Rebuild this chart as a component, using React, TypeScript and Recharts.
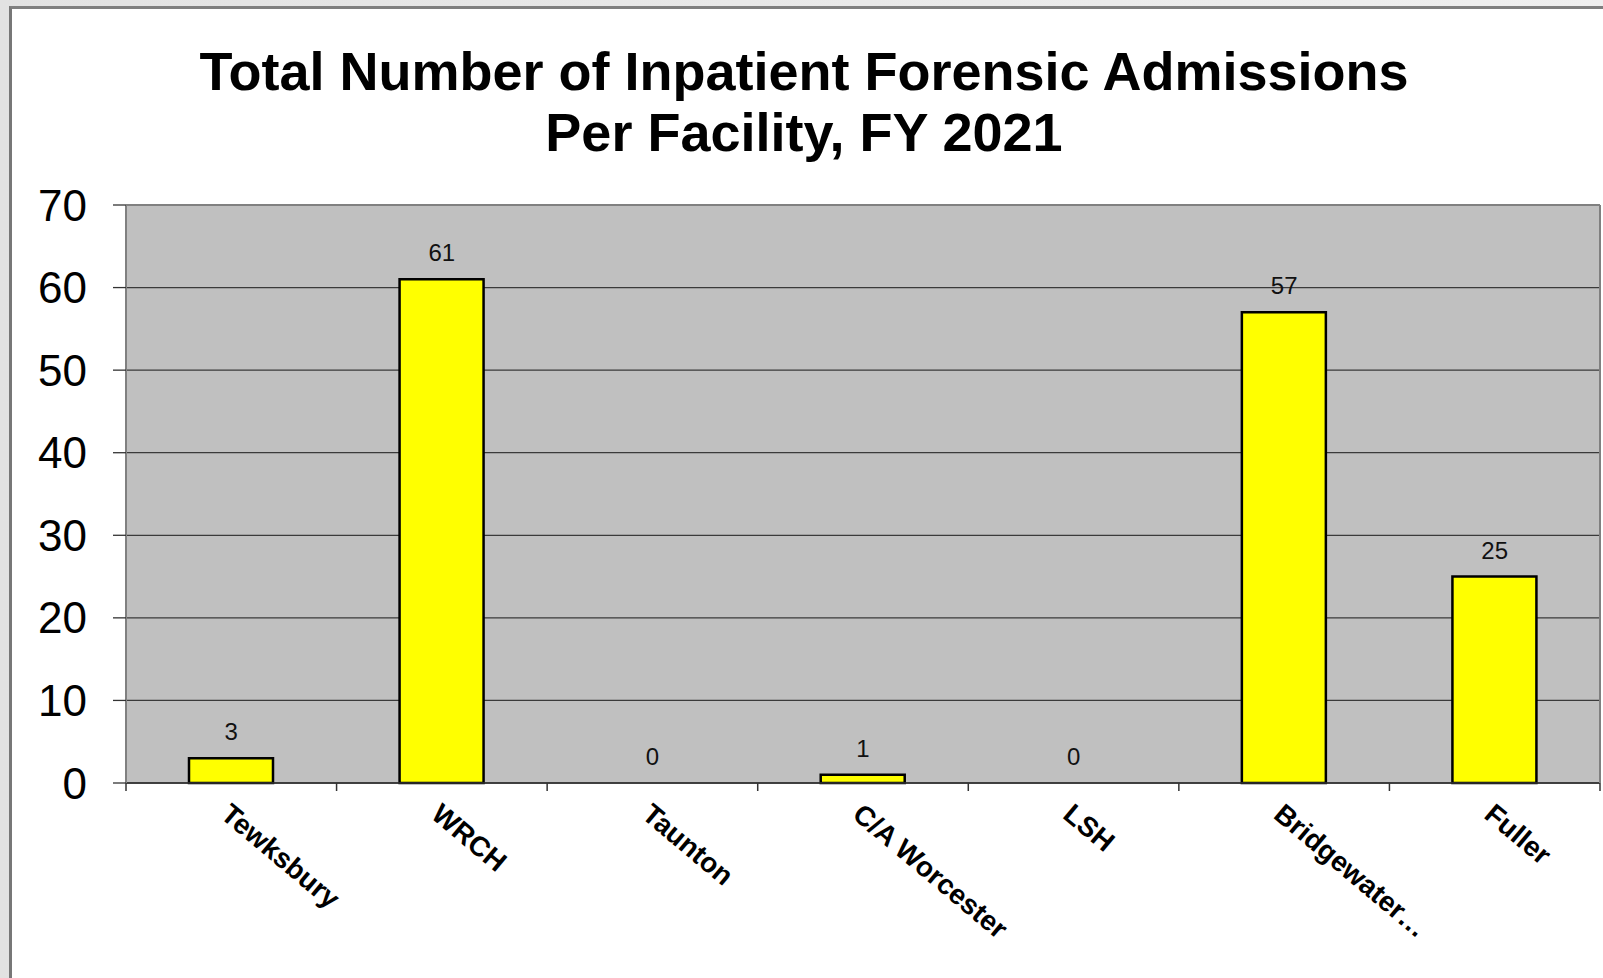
import React from 'react';
import { ComposedChart, Bar, Line, XAxis, YAxis, CartesianGrid, LabelList, ReferenceLine } from 'recharts';

const categories = ['Tewksbury', 'WRCH', 'Taunton', 'C/A Worcester', 'LSH', 'Bridgewater…', 'Fuller'];
const admissions = [3, 61, 0, 1, 0, 57, 25];
const yTicks = [0, 10, 20, 30, 40, 50, 60, 70];
const titleLines = ['Total Number of Inpatient Forensic Admissions', 'Per Facility, FY 2021'];

const data = categories.map((name, i) => ({ name, value: admissions[i] }));

const W = 1603;
const H = 978;
const PLOT_LEFT = 126;
const PLOT_RIGHT = 1600;
const PLOT_TOP = 205;
const PLOT_BOTTOM = 783;
const BAND = (PLOT_RIGHT - PLOT_LEFT) / categories.length;
const FONT = '"Liberation Sans", Arial, Helvetica, sans-serif';

function XTick(props: any) {
  const { x, payload } = props;
  const left = x - BAND / 2;
  const isLast = payload.value === categories[categories.length - 1];
  const ax = x - 12;
  const ay = PLOT_BOTTOM + 34;
  return (
    <g>
      <line x1={left} y1={PLOT_BOTTOM} x2={left} y2={PLOT_BOTTOM + 8} stroke="#333" strokeWidth={1.5} />
      {isLast && (
        <line x1={x + BAND / 2} y1={PLOT_BOTTOM} x2={x + BAND / 2} y2={PLOT_BOTTOM + 8} stroke="#333" strokeWidth={1.5} />
      )}
      <text
        x={ax}
        y={ay}
        transform={`rotate(40 ${ax} ${ay})`}
        fontSize={28}
        fontWeight="bold"
        fontFamily={FONT}
        textAnchor="start"
        fill="#000"
      >
        {payload.value}
      </text>
    </g>
  );
}

function ValueLabel(props: any) {
  const { x, y, value } = props;
  return (
    <text x={x} y={y - 18} textAnchor="middle" fontSize={24} fill="#111" fontFamily={FONT}>
      {String(value)}
    </text>
  );
}

export default function App() {
  return (
    <div style={{ position: 'absolute', left: 0, top: 0, width: W, height: H, overflow: 'hidden', background: 'linear-gradient(90deg, #e2e2e2, #efefef)', fontFamily: FONT }}>
      <div
        style={{
          position: 'absolute',
          left: 9,
          top: 6,
          width: W,
          height: H,
          background: '#ffffff',
          borderLeft: '3px solid #777',
          borderTop: '3px solid #7f7f7f',
        }}
      />
      <svg width={W} height={H} style={{ position: 'absolute', left: 0, top: 0 }}>
        <text x={804} y={90} textAnchor="middle" fontSize={54} fontWeight="bold" fontFamily={FONT} fill="#000">
          {titleLines[0]}
        </text>
        <text x={804} y={151} textAnchor="middle" fontSize={54} fontWeight="bold" fontFamily={FONT} fill="#000">
          {titleLines[1]}
        </text>
      </svg>
      <div style={{ position: 'absolute', left: 0, top: 0 }}>
        <ComposedChart
          width={W}
          height={H}
          data={data}
          margin={{ top: PLOT_TOP, right: 0, left: 0, bottom: 0 }}
          barSize={84}
        >
          <CartesianGrid yAxisId="left" vertical={false} fill="#C0C0C0" stroke="#3a3a3a" strokeWidth={1.3} />
          <XAxis
            dataKey="name"
            height={H - PLOT_BOTTOM}
            interval={0}
            tick={<XTick />}
            tickLine={false}
            axisLine={{ stroke: '#333', strokeWidth: 1.5 }}
          />
          <YAxis
            yAxisId="left"
            width={PLOT_LEFT}
            domain={[0, 70]}
            ticks={yTicks}
            interval={0}
            tickSize={13}
            tickMargin={26}
            tick={{ fontSize: 44, fill: '#000', fontFamily: FONT }}
            tickLine={{ stroke: '#333', strokeWidth: 1.3 }}
            axisLine={{ stroke: '#808080', strokeWidth: 2 }}
          />
          <YAxis
            yAxisId="right"
            orientation="right"
            width={W - PLOT_RIGHT}
            domain={[0, 70]}
            tick={false}
            tickLine={false}
            axisLine={{ stroke: '#808080', strokeWidth: 2 }}
          />
          <ReferenceLine yAxisId="left" y={70} stroke="#808080" strokeWidth={2} />
          <Bar yAxisId="left" dataKey="value" fill="#FFFF00" stroke="#000" strokeWidth={2.5} isAnimationActive={false} />
          <Line
            yAxisId="left"
            dataKey="value"
            stroke="none"
            dot={false}
            activeDot={false}
            legendType="none"
            isAnimationActive={false}
          >
            <LabelList dataKey="value" content={<ValueLabel />} />
          </Line>
        </ComposedChart>
      </div>
    </div>
  );
}
